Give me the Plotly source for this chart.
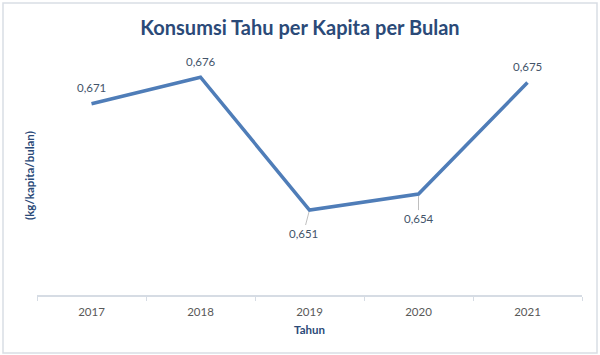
import plotly.graph_objects as go

years = ["2017", "2018", "2019", "2020", "2021"]
values = [0.671, 0.676, 0.651, 0.654, 0.675]
labels = ["0,671", "0,676", "0,651", "0,654", "0,675"]

FONT = "Lato, Carlito, Calibri, sans-serif"
LINE = "#4F7DB8"
TITLE_C = "#2B4A78"
LABEL_C = "#44546A"
TICK_C = "#595959"

L, R, T, B = 37, 18, 56, 60
W, H = 600, 355
pw, ph = W - L - R, H - T - B

fig = go.Figure()
fig.add_trace(go.Scatter(x=years, y=values, mode="lines",
                         line=dict(color=LINE, width=3.5), hoverinfo="skip"))

# data labels (x given as category index)
for i, (v, lab) in enumerate(zip(values, labels)):
    if lab in ("0,651", "0,654"):
        ax = -6 if lab == "0,651" else 0
        ay = 23 if lab == "0,651" else 24
        fig.add_annotation(x=i, y=v, text=lab, showarrow=True, arrowhead=0,
                           arrowwidth=1, arrowcolor="#BFBFBF", ax=ax, ay=ay,
                           standoff=2, font=dict(family=FONT, size=11.5, color=LABEL_C))
    else:
        fig.add_annotation(x=i, y=v, text=lab, showarrow=False, yshift=16,
                           font=dict(family=FONT, size=11.5, color=LABEL_C))

# y-axis title
fig.add_annotation(xref="paper", yref="paper", x=(21 - L) / pw, y=0.5,
                   text="<b>(kg/kapita/bulan)</b>", textangle=-90, showarrow=False,
                   font=dict(family=FONT, size=11.5, color=TITLE_C))

# outer border
fig.add_shape(type="rect", xref="paper", yref="paper",
              x0=(3 - L) / pw, x1=(597 - L) / pw,
              y0=(H - B - 353) / ph, y1=(H - B - 3) / ph,
              line=dict(color="#D9DEE5", width=1.5), fillcolor="rgba(0,0,0,0)", layer="below")

fig.update_layout(
    width=W, height=H,
    margin=dict(l=L, r=R, t=T, b=B),
    paper_bgcolor="white", plot_bgcolor="white",
    showlegend=False,
    title=dict(text="<b>Konsumsi Tahu per Kapita per Bulan</b>", x=0.5, xanchor="center",
               y=1 - 28 / H, yanchor="middle",
               font=dict(family=FONT, size=20, color=TITLE_C)),
    xaxis=dict(type="category", range=[-0.5, len(years) - 0.5],
               showline=True, linecolor="#D6DCE4", linewidth=1.5,
               ticks="outside", tickson="boundaries", ticklen=4, tickcolor="#D6DCE4",
               ticklabelstandoff=5,
               showgrid=False, zeroline=False,
               tickfont=dict(family=FONT, size=11.5, color=TICK_C),
               title=dict(text="<b>Tahun</b>", standoff=9,
                          font=dict(family=FONT, size=11.5, color=TITLE_C))),
    yaxis=dict(range=[0.635, 0.68], showticklabels=False, showgrid=False,
               zeroline=False, showline=False, ticks=""),
)

fig.write_html("out.html")
